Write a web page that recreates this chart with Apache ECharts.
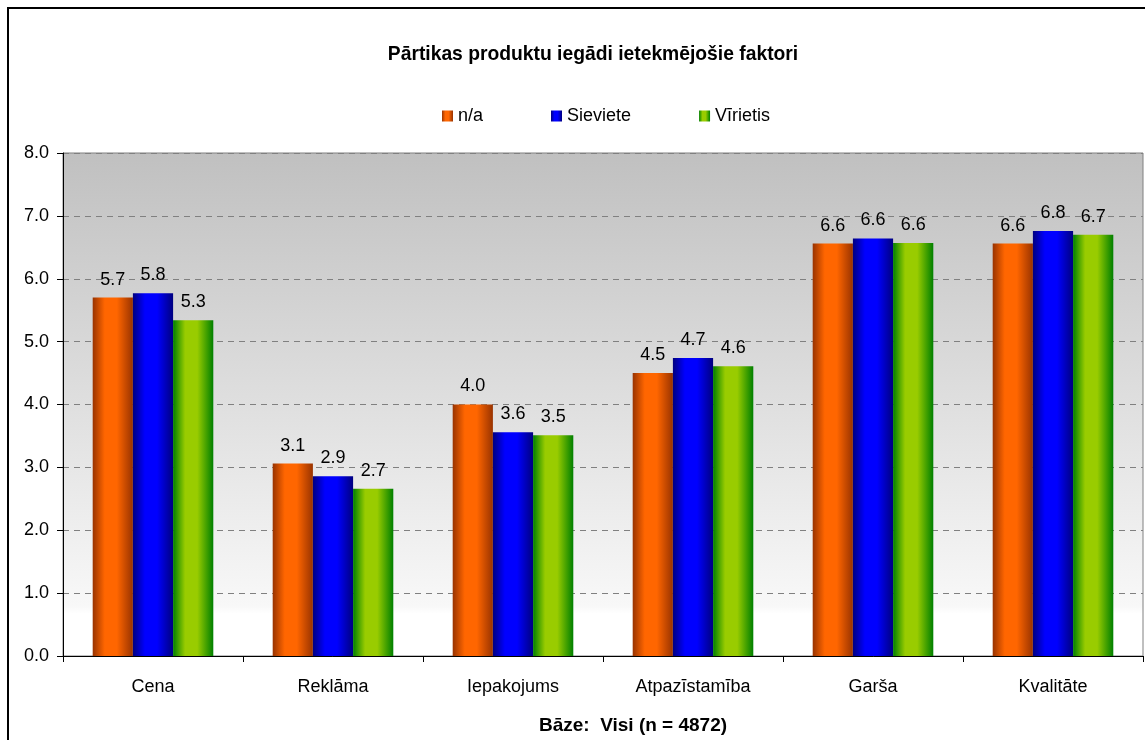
<!DOCTYPE html>
<html>
<head>
<meta charset="utf-8">
<script src="https://cdn.jsdelivr.net/npm/echarts@6/dist/echarts.min.js"></script>
<style>
html,body{margin:0;padding:0;background:#fff;}
#chart{width:1145px;height:740px;}
</style>
</head>
<body>
<div id="chart"></div>
<script>
var titleText = 'Pārtikas produktu iegādi ietekmējošie faktori';
var axisTitle = 'Bāze:  Visi (n = 4872)';
var categories = ['Cena', 'Reklāma', 'Iepakojums', 'Atpazīstamība', 'Garša', 'Kvalitāte'];
var seriesNames = ['n/a', 'Sieviete', 'Vīrietis'];
var valuesNA = [5.70, 3.06, 4.00, 4.50, 6.56, 6.56];
var valuesSieviete = [5.77, 2.86, 3.56, 4.74, 6.64, 6.76];
var valuesVirietis = [5.34, 2.66, 3.51, 4.61, 6.57, 6.70];
var yTicks = [0, 1, 2, 3, 4, 5, 6, 7, 8];

function grad(edge, mid) {
  return {
    type: 'linear', x: 0, y: 0, x2: 1, y2: 0,
    colorStops: [
      {offset: 0, color: edge},
      {offset: 0.3, color: mid},
      {offset: 0.6, color: mid},
      {offset: 1, color: edge}
    ]
  };
}
var fills = [grad('#993300', '#ff6600'), grad('#000080', '#0000ff'), grad('#008000', '#99cc00')];
var allValues = [valuesNA, valuesSieviete, valuesVirietis];
var FONT = 'Liberation Sans, Arial, sans-serif';

var chart = echarts.init(document.getElementById('chart'), null, {renderer: 'canvas'});
var series = seriesNames.map(function (name, i) {
  return {
    name: name,
    type: 'bar',
    data: allValues[i],
    barGap: '0%',
    barCategoryGap: '33%',
    itemStyle: {color: fills[i]},
    label: {
      show: true,
      position: 'top',
      distance: 9,
      fontSize: 18,
      fontFamily: FONT,
      color: '#000',
      formatter: function (p) { return p.value.toFixed(1); }
    }
  };
});

chart.setOption({
  animation: false,
  backgroundColor: '#fff',
  textStyle: {fontFamily: FONT},
  title: {
    text: titleText,
    left: 588,
    top: 40,
    textAlign: 'center',
    textStyle: {fontSize: 19.3, fontWeight: 'bold', color: '#000', fontFamily: FONT}
  },
  legend: {
    data: seriesNames,
    icon: 'rect',
    left: 437,
    top: 102,
    itemWidth: 11,
    itemHeight: 11,
    itemGap: 68,
    textStyle: {fontSize: 18, color: '#000', fontFamily: FONT}
  },
  grid: {
    left: 63, right: 2, top: 153, bottom: 84,
    show: true,
    borderColor: '#808080',
    borderWidth: 1,
    backgroundColor: {
      type: 'linear', x: 0, y: 0, x2: 0, y2: 1,
      colorStops: [
        {offset: 0, color: '#c0c0c0'},
        {offset: 0.9, color: '#f8f8f8'},
        {offset: 0.915, color: '#ffffff'},
        {offset: 1, color: '#ffffff'}
      ]
    }
  },
  xAxis: {
    type: 'category',
    data: categories,
    axisLine: {lineStyle: {color: '#000', width: 1}},
    axisTick: {show: true, length: 6, lineStyle: {color: '#000'}},
    axisLabel: {fontSize: 18, color: '#000', margin: 22, fontFamily: FONT},
    name: axisTitle,
    nameLocation: 'middle',
    nameGap: 60,
    nameTextStyle: {fontSize: 19, fontWeight: 'bold', color: '#000', fontFamily: FONT, padding: [0, 0, 0, 60]}
  },
  yAxis: {
    type: 'value',
    min: yTicks[0],
    max: yTicks[yTicks.length - 1],
    interval: 1,
    axisLine: {show: true, lineStyle: {color: '#000', width: 1}},
    axisTick: {show: true, length: 6, lineStyle: {color: '#000'}},
    axisLabel: {fontSize: 18, color: '#000', margin: 14, fontFamily: FONT,
      formatter: function (v) { return v.toFixed(1); }},
    splitLine: {show: true, lineStyle: {color: '#808080', type: [6, 5], width: 1}}
  },
  graphic: [{
    type: 'rect',
    shape: {x: 8, y: 8, width: 1200, height: 800},
    style: {fill: null, stroke: '#000', lineWidth: 2},
    silent: true,
    z: 100
  }],
  series: series
});
</script>
</body>
</html>
